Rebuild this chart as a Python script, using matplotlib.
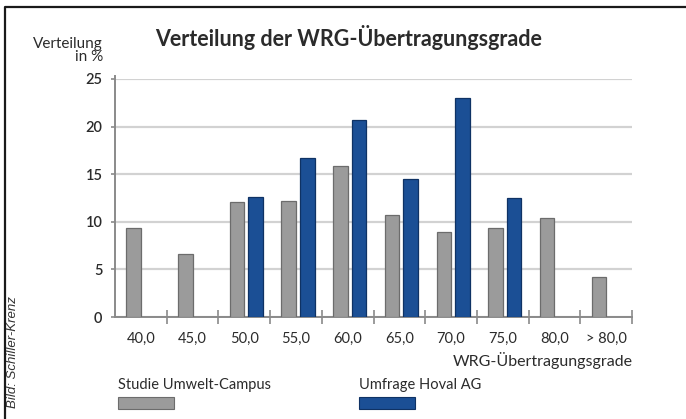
import numpy as np
import matplotlib
matplotlib.use("Agg")
import matplotlib.pyplot as plt
from matplotlib.patches import Rectangle
from matplotlib.lines import Line2D

## data
categories = ["40,0", "45,0", "50,0", "55,0", "60,0", "65,0", "70,0", "75,0", "80,0", "> 80,0"]
studie_umwelt = [9.3, 6.6, 12.1, 12.2, 15.9, 10.7, 8.9, 9.3, 10.4, 4.2]
umfrage_hoval = [0, 0, 12.6, 16.7, 20.7, 14.5, 23.0, 12.5, 0, 0]
yticks = [0, 5, 10, 15, 20, 25]

plt.rcParams['font.family'] = ['Lato', 'DejaVu Sans']
txt = '#2b2b2b'
gray = '#9b9b9b'
blue = '#1b4f95'

fig = plt.figure(figsize=(6.86, 4.19), dpi=100)
W, H = 686.0, 419.0
ax = fig.add_axes([115/W, 1-317/H, 517/W, 238/H])

x = np.arange(len(categories))
w = 0.28
ax.bar(x-0.14, studie_umwelt, width=w, color=gray, edgecolor='#6c6c6c', linewidth=0.9, zorder=3)
hov = np.array(umfrage_hoval, dtype=float)
m = hov > 0
ax.bar(x[m]+0.22, hov[m], width=w, color=blue, edgecolor='#0f3264', linewidth=0.9, zorder=3)

ax.set_xlim(-0.5, len(categories)-0.5)
ax.set_ylim(0, 25)
ax.set_yticks(yticks)
ax.set_yticklabels([str(v) for v in yticks], fontsize=10.5, color=txt, fontweight='semibold')
ax.yaxis.grid(True, color='#d2d2d2', linewidth=1.6, zorder=0)
ax.set_axisbelow(True)

ax.set_xticks(np.arange(len(categories))+0.5)
ax.set_xticklabels([])
ax.set_xticks(x, minor=True)
ax.set_xticklabels(categories, minor=True, fontsize=10.5, color=txt)
ax.tick_params(axis='x', which='major', direction='inout', length=10, width=1.2, color='#8a8a8a')
ax.tick_params(axis='x', which='minor', length=0, pad=11)
ax.tick_params(axis='y', direction='out', length=3, width=1.2, color='#8a8a8a', pad=6)

for s in ['top', 'right']:
    ax.spines[s].set_visible(False)
for s in ['left', 'bottom']:
    ax.spines[s].set_color('#8a8a8a')
    ax.spines[s].set_linewidth(1.4)
ax.spines['left'].set_bounds(0, 25.3)

# titles and labels
fig.text(349/W, 1-37/H, "Verteilung der WRG-Übertragungsgrade", ha='center', va='center',
         fontsize=15.5, fontweight='bold', color=txt)
fig.text(103/W, 1-44/H, "Verteilung", ha='right', va='center', fontsize=11, color=txt)
fig.text(103/W, 1-57/H, "in %", ha='right', va='center', fontsize=11, color=txt)
fig.text(633/W, 1-360/H, "WRG-Übertragungsgrade", ha='right', va='center', fontsize=11.5, color=txt)

# legend
fig.text(118/W, 1-385/H, "Studie Umwelt-Campus", ha='left', va='center', fontsize=10.5, color=txt)
fig.patches.append(Rectangle((118/W, 1-409/H), 56/W, 12/H, transform=fig.transFigure,
                             facecolor=gray, edgecolor='#6c6c6c', linewidth=0.8))
fig.text(359/W, 1-385/H, "Umfrage Hoval AG", ha='left', va='center', fontsize=10.5, color=txt)
fig.patches.append(Rectangle((359/W, 1-409/H), 56/W, 12/H, transform=fig.transFigure,
                             facecolor=blue, edgecolor='#0f3264', linewidth=0.8))

# credit
fig.text(13/W, 1-352/H, "Bild: Schiller-Krenz", rotation=90, ha='center', va='center',
         fontsize=9.5, style='italic', family=['Liberation Sans', 'DejaVu Sans'], color='#333333')

# frame
fig.lines.append(Line2D([5/W, 5/W, 1], [0, 1-7/H, 1-7/H], transform=fig.transFigure,
                        color='#1a1a1a', linewidth=1.6))

fig.savefig("out.png", dpi=100)
